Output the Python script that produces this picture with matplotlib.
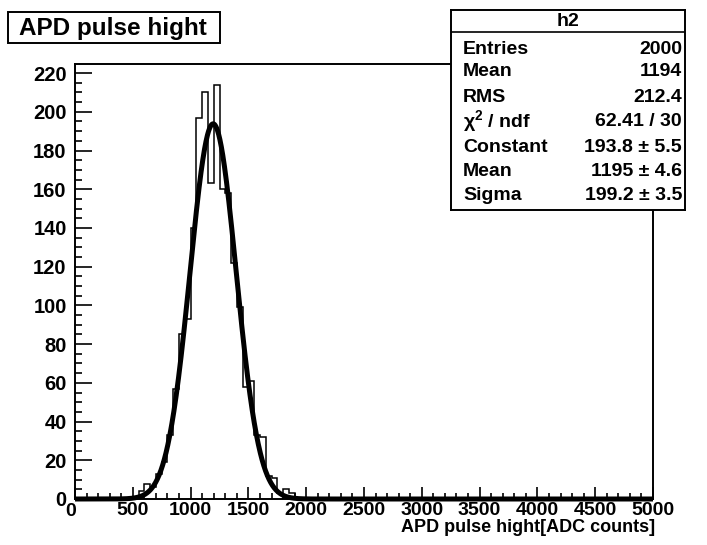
import numpy as np
import matplotlib
matplotlib.use("Agg")
import matplotlib.pyplot as plt
from matplotlib.patches import Rectangle
from matplotlib.transforms import ScaledTranslation

plt.rcParams['font.family'] = ['Liberation Sans', 'DejaVu Sans']
plt.rcParams['font.weight'] = 'bold'
plt.rcParams['mathtext.fontset'] = 'custom'
plt.rcParams['mathtext.rm'] = 'Liberation Sans:bold'
plt.rcParams['mathtext.it'] = 'Liberation Sans:bold'
plt.rcParams['mathtext.bf'] = 'Liberation Sans:bold'

# histogram: 100 bins of 50 ADC counts from 0 to 5000
bin_width = 50
n_bins = 100
first_filled_bin = 500          # lower edge of first non-empty bin
counts = [1, 4, 8, 6, 13, 19, 33, 57, 85, 93,
          140, 197, 210, 163, 214, 160, 158, 122, 99, 58,
          61, 33, 32, 12, 11, 3, 5, 3]

# gaussian fit result (from the stats box)
fit_const = 193.8
fit_mean = 1195
fit_sigma = 199.2

stat_labels = ['Entries', 'Mean', 'RMS', u'\u03c7$^{2}$ / ndf', 'Constant', 'Mean', 'Sigma']
stat_values = ['2000', '1194', '212.4', '62.41 / 30',
               u'193.8 \u00b1 5.5', u'1195 \u00b1 4.6', u'199.2 \u00b1 3.5']

W, H = 707, 545
fig = plt.figure(figsize=(W / 100, H / 100), dpi=100)
fig.patch.set_facecolor('white')

# frame in pixels: left 75, right 653, top 64, bottom 499
ax = fig.add_axes([75 / W, (H - 499) / H, (653 - 75) / W, (499 - 64) / H])

edges = np.arange(0, n_bins * bin_width + bin_width, bin_width)
full = np.zeros(n_bins)
i0 = first_filled_bin // bin_width
full[i0:i0 + len(counts)] = counts
ax.stairs(full, edges, color='black', lw=1.1, baseline=0, zorder=2)

xf = np.linspace(0, 5000, 2000)
yf = fit_const * np.exp(-0.5 * ((xf - fit_mean) / fit_sigma) ** 2)
ax.plot(xf, yf, color='black', lw=3.6, zorder=3, clip_on=False, solid_capstyle='butt')

ax.set_xlim(0, 5000)
ax.set_ylim(0, 224.7)
ax.set_xticks(np.arange(0, 5001, 500))
ax.set_xticks(np.arange(0, 5001, 100), minor=True)
ax.set_yticks(np.arange(0, 221, 20))
ax.set_yticks(np.arange(0, 221, 5), minor=True)
ax.tick_params(axis='x', which='major', direction='in', length=8.5, width=1.2,
               labelsize=14, pad=2)
ax.tick_params(axis='x', which='minor', direction='in', length=4, width=1.2)
ax.tick_params(axis='y', which='major', direction='in', length=12, width=1.2,
               labelsize=14.5, pad=6)
ax.tick_params(axis='y', which='minor', direction='in', length=5, width=1.2)
for lab in ax.get_xticklabels() + ax.get_yticklabels():
    lab.set_fontweight('bold')
# the x "0" sits a little left of the axis, as in the original
x0lab = ax.get_xticklabels()[0]
x0lab.set_transform(x0lab.get_transform() + ScaledTranslation(-0.04, -0.01, fig.dpi_scale_trans))
for s in ax.spines.values():
    s.set_linewidth(1.4)

fig.text(655 / W, 1 - 527 / H, 'APD pulse hight[ADC counts]', ha='right', va='center',
         fontsize=13, fontweight='bold')

# title box
fig.add_artist(Rectangle((8 / W, 1 - 43 / H), 212 / W, 31 / H, transform=fig.transFigure,
                         facecolor='white', edgecolor='black', lw=1.4))
fig.text(113 / W, 1 - 28 / H, 'APD pulse hight', ha='center', va='center',
         fontsize=17.5, fontweight='bold')

# stats box
bx0, bx1, by0, by1 = 451, 685, 10, 210
sax = fig.add_axes([bx0 / W, 1 - by1 / H, (bx1 - bx0) / W, (by1 - by0) / H])
sax.set_xlim(bx0, bx1)
sax.set_ylim(by1, by0)
sax.set_xticks([])
sax.set_yticks([])
for s in sax.spines.values():
    s.set_linewidth(1.4)
sax.axhline(32, color='black', lw=1.2)
sax.text((bx0 + bx1) / 2, 21, 'h2', ha='center', va='center', fontsize=14, fontweight='bold')
row_y = [50, 72, 97, 121, 147, 172, 196]
for lab, val, yy in zip(stat_labels, stat_values, row_y):
    sax.text(463, yy, lab, ha='left', va='center', fontsize=14, fontweight='bold')
    sax.text(682, yy, val, ha='right', va='center', fontsize=14, fontweight='bold')

fig.savefig('out.png', dpi=100)
